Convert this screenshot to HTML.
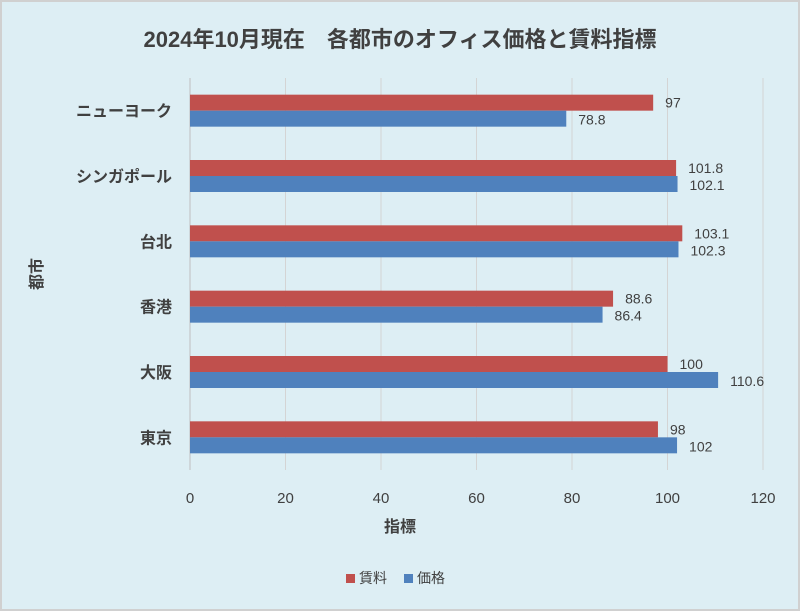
<!DOCTYPE html>
<html><head><meta charset="utf-8"><style>
body{margin:0;width:800px;height:611px;overflow:hidden;background:#fff}
svg{display:block;font-family:"Liberation Sans","Noto Sans CJK JP",sans-serif}
</style></head><body>
<svg width="800" height="611">
<rect x="1" y="1" width="798" height="609" fill="#ddeef4" stroke="#d0d0d0" stroke-width="2"/>
<text x="400" y="47" text-anchor="middle" font-size="22" font-weight="bold" fill="#404040">2024年10月現在　各都市のオフィス価格と賃料指標</text>
<g id="grid"></g><g id="bars"></g><g id="labels"></g>
<text x="400" y="532" text-anchor="middle" font-size="16" font-weight="bold" fill="#404040">指標</text>
<text transform="translate(42,274) rotate(-90)" text-anchor="middle" font-size="16" font-weight="bold" fill="#404040">都市</text>
<g>
<rect x="346" y="574" width="9" height="9" fill="#c0504d"/>
<text x="359" y="583" font-size="14" fill="#404040">賃料</text>
<rect x="404" y="574" width="9" height="9" fill="#4f81bd"/>
<text x="417" y="583" font-size="14" fill="#404040">価格</text>
</g>
</svg>
<script>
const categories=["ニューヨーク","シンガポール","台北","香港","大阪","東京"];
const rent=[97,101.8,103.1,88.6,100,98];
const price=[78.8,102.1,102.3,86.4,110.6,102];
const ticks=[0,20,40,60,80,100,120];
const NS="http://www.w3.org/2000/svg";
const x0=190,x1=763,plotTop=78,plotBot=470,xmax=120;
const xs=v=>x0+(x1-x0)*v/xmax;
const band=(plotBot-plotTop)/categories.length;
const yc=i=>plotTop+band*(i+0.5);
function mk(t,a,p){const e=document.createElementNS(NS,t);for(const k in a)e.setAttribute(k,a[k]);p.appendChild(e);return e;}
const g=document.getElementById('grid'),b=document.getElementById('bars'),l=document.getElementById('labels');
ticks.forEach(t=>{
 const ln=mk('line',{x1:xs(t),x2:xs(t),y1:plotTop,y2:plotBot,stroke:t===0?'#bfbfbf':'#d4d4d4','stroke-width':1},g);
 
 
 const tx=mk('text',{x:xs(t),y:503,'text-anchor':'middle','font-size':15,fill:'#404040'},l);
 tx.textContent=t;
 
 
});
categories.forEach((c,i)=>{
 const y=yc(i);
 const ct=mk('text',{x:172,y:y+6,'text-anchor':'end','font-size':16,'font-weight':'bold',fill:'#404040'},l);
 ct.textContent=c;
 
 
 const r=mk('rect',{x:x0,y:y-16,width:xs(rent[i])-x0,height:16,fill:'#c0504d'},b);
 
 
 const p=mk('rect',{x:x0,y:y,width:xs(price[i])-x0,height:16,fill:'#4f81bd'},b);
 
 
 const rl=mk('text',{x:xs(rent[i])+12,y:y-3,'font-size':14,fill:'#404040'},l);
 rl.textContent=rent[i];
 
 
 const pl=mk('text',{x:xs(price[i])+12,y:y+14,'font-size':14,fill:'#404040'},l);
 pl.textContent=price[i];
 
 
});
</script>
</body></html>
